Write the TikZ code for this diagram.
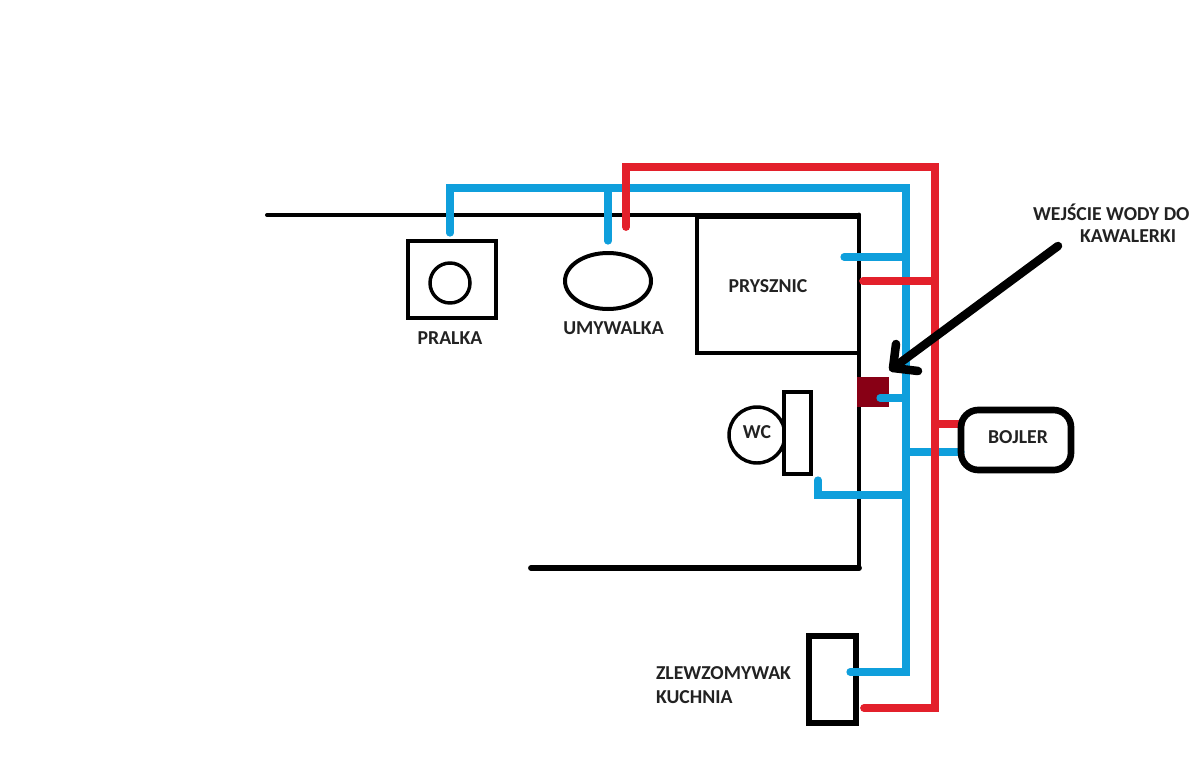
\documentclass[tikz,border=0pt]{standalone}
\usepackage{fontspec}
\usetikzlibrary{shapes.geometric}
\setmainfont{Carlito}
\definecolor{zimna}{HTML}{0F9FDC}
\definecolor{ciepla}{HTML}{E3202B}
\definecolor{wejscie}{HTML}{880015}
\definecolor{tekst}{HTML}{222222}
\begin{document}
\begin{tikzpicture}[x=0.75pt,y=-0.75pt,
  every node/.style={inner sep=0pt,outer sep=0pt},
  opis/.style={font=\bfseries\fontsize{14.8}{17}\selectfont,text=tekst},
  sprzet/.style={draw=black,line width=3pt,minimum width=#1},
  zimnarura/.style={draw=zimna,line width=5.4pt,line cap=round,line join=miter},
  cieplarura/.style={draw=ciepla,line width=5.8pt,line cap=round,line join=miter},
  sciana/.style={draw=black,line width=#1,line cap=round,line join=miter}]
\useasboundingbox (0,0) rectangle (1201,771);
\fill [white] (0,0) rectangle (1201,771);
\coordinate (scianaL) at (267,215);
\coordinate (scianaR) at (859,215);
\coordinate (scianaD) at (859,568);
\coordinate (scianaB) at (531,568);
\draw [sciana=3pt] (scianaL) -- (scianaR);
\draw [sciana=3.6pt] (scianaR) -- (scianaD);
\draw [sciana=4.4pt] (scianaD) -- (scianaB);
\node [sprzet=88*0.75pt,minimum height=77*0.75pt] (pralka) at (452,279.5) {};
\node [draw=black,line width=2.6pt,circle,minimum width=40*0.75pt] (beben) at (450,283) {};
\node [draw=black,line width=3pt,ellipse,minimum width=86*0.75pt,minimum height=56*0.75pt] (umywalka) at (608,281) {};
\node [draw=black,line width=2.6pt,minimum width=162*0.75pt,minimum height=136*0.75pt] (prysznic) at (778,285) {};
\node [draw=black,line width=2.6pt,circle,minimum width=56*0.75pt] (miska) at (757,435) {};
\node [draw=black,line width=2.6pt,fill=white,minimum width=27*0.75pt,minimum height=82*0.75pt] (spluczka) at (797.5,433) {};
\node [draw=black,line width=5pt,minimum width=47*0.75pt,minimum height=87*0.75pt] (zlew) at (832.5,679.5) {};
\node [fill=wejscie,minimum width=32*0.75pt,minimum height=30*0.75pt] (zawor) at (873,392) {};
\coordinate (zA) at (450,233);
\coordinate (zB) at (450,188);
\coordinate (zC) at (906,188);
\coordinate (zD) at (906,672);
\coordinate (zE) at (850,672);
\coordinate (zF) at (608,188);
\coordinate (zG) at (608,241);
\coordinate (zH) at (844,257);
\coordinate (zI) at (906,257);
\coordinate (zJ) at (880,398);
\coordinate (zK) at (906,398);
\coordinate (zL) at (818,480);
\coordinate (zM) at (818,495);
\coordinate (zN) at (906,495);
\coordinate (zO) at (906,452);
\coordinate (zP) at (961,452);
\draw [zimnarura] (zA) -- (zB) -- (zC) -- (zD) -- (zE);
\draw [zimnarura] (zF) -- (zG);
\draw [zimnarura] (zH) -- (zI);
\draw [zimnarura] (zJ) -- (zK);
\draw [zimnarura] (zL) -- (zM) -- (zN);
\draw [zimnarura] (zO) -- (zP);
\coordinate (cA) at (626,227);
\coordinate (cB) at (626,167);
\coordinate (cC) at (935,167);
\coordinate (cD) at (935,708);
\coordinate (cE) at (864,708);
\coordinate (cF) at (863,281);
\coordinate (cG) at (935,281);
\coordinate (cH) at (935,424);
\coordinate (cI) at (961,424);
\draw [cieplarura] (cA) -- (cB) -- (cC) -- (cD) -- (cE);
\draw [cieplarura] (cF) -- (cG);
\draw [cieplarura] (cH) -- (cI);
\node [draw=black,line width=5pt,rounded corners=13pt,minimum width=110*0.75pt,minimum height=60*0.75pt] (bojler) at (1016,440) {};
\coordinate (strzalkaA) at (1058,246);
\coordinate (strzalkaB) at (893,368);
\coordinate (strzalkaC) at (896,344);
\coordinate (strzalkaD) at (918,371);
\draw [black,line width=6.4pt,line cap=round,line join=round] (strzalkaA) -- (strzalkaB);
\draw [black,line width=6.4pt,line cap=round,line join=round] (strzalkaC) -- (strzalkaB) -- (strzalkaD);
\node [opis] (pralkaT) at (450,338) {PRALKA};
\node [opis] (umywalkaT) at (613.5,328) {UMYWALKA};
\node [opis] (prysznicT) at (768,286) {PRYSZNIC};
\node [opis] (wcT) at (757,432) {WC};
\node [opis] (bojlerT) at (1018,437) {BOJLER};
\node [opis,anchor=west] (zlewT) at (656,673) {ZLEWZOMYWAK};
\node [opis,anchor=west] (kuchniaT) at (656,697) {KUCHNIA};
\node [opis,anchor=west] (wejscieT) at (1033,212) {WEJŚCIE WODY DO};
\node [opis,anchor=west] (kawalerkiT) at (1080,236) {KAWALERKI};
\end{tikzpicture}
\end{document}
